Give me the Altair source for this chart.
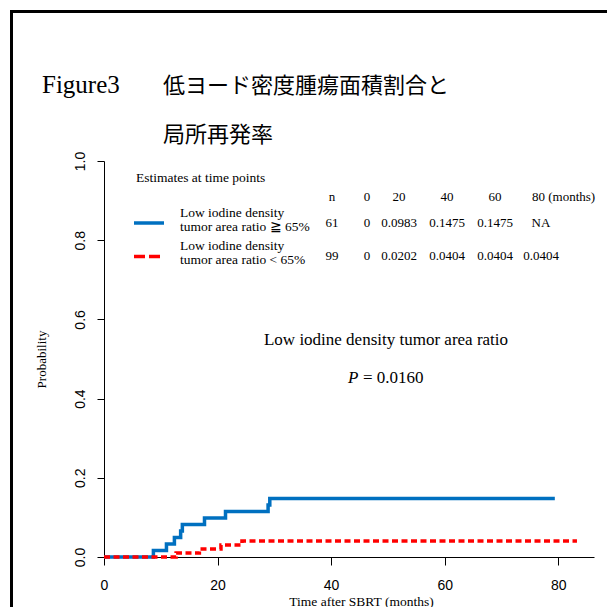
import altair as alt
import pandas as pd

# ---------------- data ----------------
blue_time = [0, 8.7, 11.0, 12.4, 13.5, 13.8, 17.7, 21.4, 28.9, 29.2, 79.4]
blue_prob = [0.0, 0.0164, 0.0328, 0.0492, 0.0656, 0.0820, 0.0983, 0.1147, 0.1311, 0.1475, 0.1475]
red_time = [0, 12.7, 16.8, 20.6, 24.3, 83.3]
red_prob = [0.0, 0.0101, 0.0202, 0.0303, 0.0404, 0.0404]

x_ticks = [0, 20, 40, 60, 80]
y_ticks = [0.0, 0.2, 0.4, 0.6, 0.8, 1.0]

title_prefix = "Figure3"
title_line1 = "低ヨード密度腫瘍面積割合と"
title_line2 = "局所再発率"
legend_heading = "Estimates at time points"
group_label_1 = ["Low iodine density", "tumor area ratio ≧ 65%"]
group_label_2 = ["Low iodine density", "tumor area ratio < 65%"]
table_header = ["n", "0", "20", "40", "60", "80 (months)"]
table_row_1 = ["61", "0", "0.0983", "0.1475", "0.1475", "NA"]
table_row_2 = ["99", "0", "0.0202", "0.0404", "0.0404", "0.0404"]
annot_text = "Low iodine density tumor area ratio"
p_label = "P"
p_value = "= 0.0160"
x_title = "Time after SBRT (months)"
y_title = "Probability"

# ---------------- layout (pixels) ----------------
W, H = 490, 396
OX, OY = 104, 161          # page position of plot origin (top-left)
SERIF = "Liberation Serif"
SANS = "Liberation Sans"
CJK = "Noto Sans CJK JP"
BLUE = "#0070C0"
RED = "#FF0000"

col_x = [332, 367, 399, 447, 495, 541]
row_y = [197, 223, 256]


def txt(s, x, y, size, font=SERIF, align="left", baseline="middle",
        angle=0, style="normal", weight="normal"):
    return alt.Chart().mark_text(
        text=s, font=font, fontSize=size, align=align, baseline=baseline,
        angle=angle, fontStyle=style, fontWeight=weight, color="black",
    ).encode(x=alt.value(x - OX), y=alt.value(y - OY))


blue_df = pd.DataFrame({"time": blue_time, "prob": blue_prob})
red_df = pd.DataFrame({"time": red_time, "prob": red_prob})

xscale = alt.Scale(domain=[0, 86.3], nice=False, zero=False)
yscale = alt.Scale(domain=[0, 1], nice=False)

xaxis = alt.Axis(
    values=x_ticks, tickSize=8, labelPadding=13, labelFont=SANS, labelFontSize=14,
    labelColor="black", domainColor="black", tickColor="black", grid=False,
    labelFlush=False, labelOverlap=False,
    title=x_title, titleFont=SERIF, titleFontSize=13.5, titleFontWeight="normal",
    titleColor="black", titleX=257, titleY=44, titleBaseline="middle", titleAlign="center",
)
yaxis = alt.Axis(
    values=y_ticks, format=".1f", tickSize=7, labelPadding=13, labelAngle=270,
    labelAlign="center", labelBaseline="alphabetic", labelFont=SANS, labelFontSize=14,
    labelColor="black", domainColor="black", tickColor="black", grid=False,
    labelFlush=False, labelOverlap=False,
    title=y_title, titleFont=SERIF, titleFontSize=13, titleFontWeight="normal",
    titleColor="black", titleX=41 - OX, titleY=359 - OY, titleAngle=270,
    titleBaseline="middle", titleAlign="center",
)

blue_line = alt.Chart(blue_df).mark_line(
    interpolate="step-after", color=BLUE, strokeWidth=3.5
).encode(
    x=alt.X("time:Q", scale=xscale, axis=xaxis),
    y=alt.Y("prob:Q", scale=yscale, axis=yaxis),
)
red_line = alt.Chart(red_df).mark_line(
    interpolate="step-after", color=RED, strokeWidth=3.5, strokeDash=[6, 3.5]
).encode(
    x=alt.X("time:Q", scale=xscale, axis=xaxis),
    y=alt.Y("prob:Q", scale=yscale, axis=yaxis),
)

layers = [blue_line, red_line]

# frame around the whole figure
layers.append(
    alt.Chart().mark_rect(fillOpacity=0, stroke="black", strokeWidth=3).encode(
        x=alt.value(11.5 - OX), x2=alt.value(700), y=alt.value(11.5 - OY), y2=alt.value(700)
    )
)

# title
layers.append(txt(title_prefix, 42, 92.5, 25, baseline="alphabetic"))
layers.append(txt(title_line1, 163, 92.5, 22, font=CJK, baseline="alphabetic"))
layers.append(txt(title_line2, 163, 141.5, 22, font=CJK, baseline="alphabetic"))

# legend block
layers.append(txt(legend_heading, 136, 178, 13.5))
layers.append(
    alt.Chart().mark_rule(color=BLUE, strokeWidth=3.5).encode(
        x=alt.value(134 - OX), x2=alt.value(164 - OX), y=alt.value(223 - OY)
    )
)
layers.append(
    alt.Chart().mark_rule(color=RED, strokeWidth=3.5, strokeDash=[11, 4]).encode(
        x=alt.value(134 - OX), x2=alt.value(164 - OX), y=alt.value(256.5 - OY)
    )
)
layers.append(txt(group_label_1[0], 180, 213, 13.5))
layers.append(txt(group_label_1[1], 180, 227, 13.5))
layers.append(txt(group_label_2[0], 180, 246, 13.5))
layers.append(txt(group_label_2[1], 180, 260, 13.5))

for i, s in enumerate(table_header):
    if i == len(table_header) - 1:
        layers.append(txt(s, 532, row_y[0], 13))
    else:
        layers.append(txt(s, col_x[i], row_y[0], 13, align="center"))
for r, row in enumerate([table_row_1, table_row_2]):
    for i, s in enumerate(row):
        layers.append(txt(s, col_x[i], row_y[r + 1], 13, align="center"))

# annotation
layers.append(txt(annot_text, 386, 340, 17, align="center"))
layers.append(txt(p_label, 348, 378, 17, style="italic"))
layers.append(txt(p_value, 363, 378, 17))

chart = alt.layer(*layers).properties(
    width=W, height=H,
    autosize=alt.AutoSizeParams(type="none"),
    padding={"left": OX - 8, "top": OY - 8, "right": 599 - (OX - 8) - W, "bottom": 599 - (OY - 8) - H},
).configure_view(stroke=None)

chart.save("out.html", embed_options={"renderer": "svg", "actions": False})
